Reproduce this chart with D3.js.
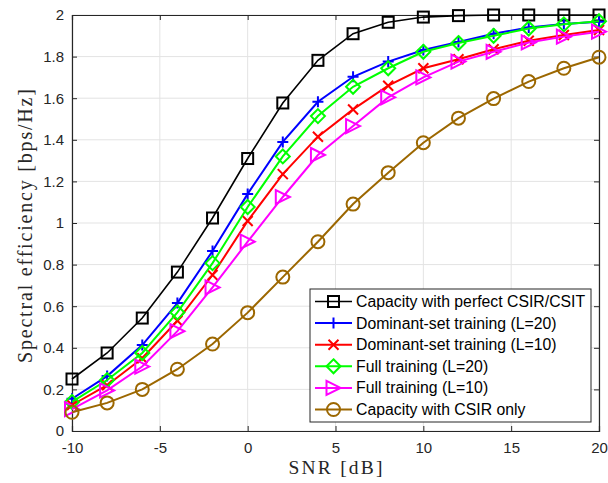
<!DOCTYPE html>
<html>
<head>
<meta charset="utf-8">
<script src="https://cdn.jsdelivr.net/npm/d3@7"></script>
<style>
  body { margin: 0; background: #fff; }
  .tick text { font-family: "Liberation Sans", Arial, sans-serif; font-size: 15px; fill: #262626; }
  .axis-label { font-family: "Liberation Serif", "Times New Roman", serif; fill: #262626; }
  .legend text { font-family: "Liberation Sans", Arial, sans-serif; font-size: 15.8px; fill: #000; }
</style>
</head>
<body>
<div id="chart"></div>
<script>
const svgWidth = 608;
const svgHeight = 483;

const margin = { top: 15, right: 9, bottom: 52, left: 72 };
const width = svgWidth - margin.left - margin.right;
const height = svgHeight - margin.top - margin.bottom;

// data
const snr = [-10, -8, -6, -4, -2, 0, 2, 4, 6, 8, 10, 12, 14, 16, 18, 20];
const perfect = [0.25, 0.375, 0.543, 0.764, 1.024, 1.31, 1.577, 1.782, 1.91, 1.965, 1.99, 1.997, 2.0, 2.0, 2.0, 2.0];
const domL20 = [0.155, 0.264, 0.413, 0.615, 0.865, 1.14, 1.39, 1.583, 1.703, 1.776, 1.832, 1.87, 1.91, 1.94, 1.957, 1.968];
const domL10 = [0.125, 0.22, 0.35, 0.53, 0.75, 1.01, 1.235, 1.415, 1.546, 1.66, 1.744, 1.787, 1.835, 1.876, 1.904, 1.928];
const fullL20 = [0.14, 0.245, 0.375, 0.57, 0.807, 1.077, 1.32, 1.514, 1.655, 1.744, 1.823, 1.865, 1.9, 1.935, 1.955, 1.97];
const fullL10 = [0.105, 0.195, 0.31, 0.48, 0.69, 0.91, 1.125, 1.327, 1.466, 1.604, 1.70, 1.776, 1.823, 1.868, 1.896, 1.92];
const csirOnly = [0.09, 0.135, 0.20, 0.297, 0.418, 0.569, 0.74, 0.91, 1.091, 1.242, 1.386, 1.504, 1.598, 1.68, 1.744, 1.797];

const xTicks = [-10, -5, 0, 5, 10, 15, 20];
const yTicks = [0, 0.2, 0.4, 0.6, 0.8, 1, 1.2, 1.4, 1.6, 1.8, 2];

const series = [
  { name: "Capacity with perfect CSIR/CSIT", values: perfect, color: "#000000", marker: "square", lw: 1.6 },
  { name: "Dominant-set training (L=20)", values: domL20, color: "#0000ff", marker: "plus", lw: 2 },
  { name: "Dominant-set training (L=10)", values: domL10, color: "#ff0000", marker: "cross", lw: 2 },
  { name: "Full training (L=20)", values: fullL20, color: "#00ff00", marker: "diamond", lw: 2 },
  { name: "Full training (L=10)", values: fullL10, color: "#ff00ff", marker: "triangle", lw: 2 },
  { name: "Capacity with CSIR only", values: csirOnly, color: "#9c6700", marker: "circle", lw: 2 }
];

const svg = d3.select("#chart")
  .append("svg")
  .attr("width", svgWidth)
  .attr("height", svgHeight);

const chartGroup = svg.append("g")
  .attr("transform", `translate(${margin.left}, ${margin.top})`);

const x = d3.scaleLinear().domain([-10, 20]).range([0, width]);
const y = d3.scaleLinear().domain([0, 2]).range([height, 0]);

// grid
chartGroup.append("g")
  .selectAll("line")
  .data(xTicks)
  .enter()
  .append("line")
  .attr("x1", d => x(d)).attr("x2", d => x(d))
  .attr("y1", 0).attr("y2", height)
  .attr("stroke", "#e3e3e3").attr("stroke-width", 1);

chartGroup.append("g")
  .selectAll("line")
  .data(yTicks)
  .enter()
  .append("line")
  .attr("x1", 0).attr("x2", width)
  .attr("y1", d => y(d)).attr("y2", d => y(d))
  .attr("stroke", "#e3e3e3").attr("stroke-width", 1);

// axes (ticks pointing inward, matlab style)
const bottomAxis = d3.axisBottom(x).tickValues(xTicks).tickSize(-5).tickPadding(11).tickFormat(d => String(d));
const leftAxis = d3.axisLeft(y).tickValues(yTicks).tickSize(-5).tickPadding(8).tickFormat(d => String(+d.toFixed(1)));
const topAxis = d3.axisTop(x).tickValues(xTicks).tickSize(-5).tickFormat("");
const rightAxis = d3.axisRight(y).tickValues(yTicks).tickSize(-5).tickFormat("");

function styleAxis(g) {
  g.select(".domain").attr("stroke", "#262626").attr("stroke-width", 1.2);
  g.selectAll(".tick line").attr("stroke", "#262626");
}

chartGroup.append("g").attr("transform", `translate(0, ${height})`).call(bottomAxis).call(styleAxis);
chartGroup.append("g").call(leftAxis).call(styleAxis);
chartGroup.append("g").call(topAxis).call(styleAxis);
chartGroup.append("g").attr("transform", `translate(${width}, 0)`).call(rightAxis).call(styleAxis);

// markers
function drawMarker(g, type, color, cx, cy) {
  const s = 5.5;
  if (type === "square") {
    g.append("rect").attr("x", cx - s).attr("y", cy - s).attr("width", 2 * s).attr("height", 2 * s)
      .attr("fill", "none").attr("stroke", color).attr("stroke-width", 2);
  } else if (type === "plus") {
    g.append("path").attr("d", `M${cx - s},${cy}H${cx + s}M${cx},${cy - s}V${cy + s}`)
      .attr("stroke", color).attr("stroke-width", 2);
  } else if (type === "cross") {
    const r = 5;
    g.append("path").attr("d", `M${cx - r},${cy - r}L${cx + r},${cy + r}M${cx - r},${cy + r}L${cx + r},${cy - r}`)
      .attr("stroke", color).attr("stroke-width", 2);
  } else if (type === "diamond") {
    const r = 7;
    g.append("path").attr("d", `M${cx},${cy - r}L${cx + r},${cy}L${cx},${cy + r}L${cx - r},${cy}Z`)
      .attr("fill", "none").attr("stroke", color).attr("stroke-width", 2);
  } else if (type === "triangle") {
    const r = 7;
    g.append("path").attr("d", `M${cx + r},${cy}L${cx - r},${cy - r}L${cx - r},${cy + r}Z`)
      .attr("fill", "none").attr("stroke", color).attr("stroke-width", 2);
  } else if (type === "circle") {
    g.append("circle").attr("cx", cx).attr("cy", cy).attr("r", 6.5)
      .attr("fill", "none").attr("stroke", color).attr("stroke-width", 2);
  }
}

const line = d3.line().x(d => x(d[0])).y(d => y(d[1]));

series.forEach(s => {
  const pts = snr.map((v, i) => [v, s.values[i]]);
  chartGroup.append("path")
    .datum(pts)
    .attr("d", line)
    .attr("fill", "none")
    .attr("stroke", s.color)
    .attr("stroke-width", s.lw);
  const mg = chartGroup.append("g");
  pts.forEach(p => drawMarker(mg, s.marker, s.color, x(p[0]), y(p[1])));
});

// axis labels (latex-ish serif, stretched to the original width)
svg.append("text")
  .attr("class", "axis-label")
  .attr("x", margin.left + width / 2)
  .attr("y", 474)
  .attr("text-anchor", "middle")
  .attr("textLength", 94)
  .attr("lengthAdjust", "spacing")
  .style("font-size", "19.5px")
  .text("SNR [dB]");

svg.append("text")
  .attr("class", "axis-label")
  .attr("transform", `translate(32, ${margin.top + height / 2 + 3}) rotate(-90)`)
  .attr("text-anchor", "middle")
  .attr("textLength", 274)
  .attr("lengthAdjust", "spacing")
  .style("font-size", "20px")
  .text("Spectral efficiency [bps/Hz]");

// legend
const legend = svg.append("g").attr("class", "legend");
const lx = 310, ly = 289, lw = 281, lh = 133;
legend.append("rect")
  .attr("x", lx).attr("y", ly).attr("width", lw).attr("height", lh)
  .attr("fill", "#fff").attr("stroke", "#262626").attr("stroke-width", 1);

series.forEach((s, i) => {
  const cy = ly + 12.5 + i * 21.6;
  legend.append("line")
    .attr("x1", lx + 5).attr("x2", lx + 42)
    .attr("y1", cy).attr("y2", cy)
    .attr("stroke", s.color).attr("stroke-width", s.lw);
  drawMarker(legend, s.marker, s.color, lx + 23.5, cy);
  legend.append("text")
    .attr("x", lx + 46)
    .attr("y", cy + 5.5)
    .text(s.name);
});
</script>
</body>
</html>
